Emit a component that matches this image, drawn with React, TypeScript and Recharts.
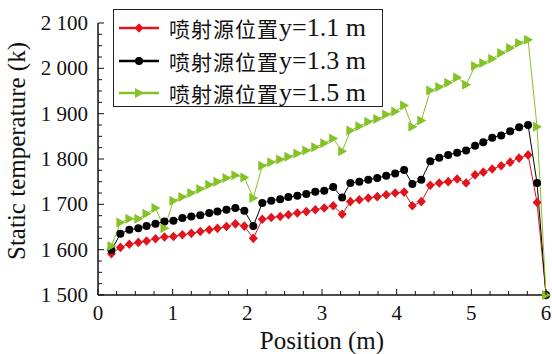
import { LineChart, Line, XAxis, YAxis, Legend } from 'recharts'

// position along the nozzle (m)
const POSITION = [
  0.18, 0.3, 0.42, 0.54, 0.65, 0.77, 0.89, 1.01, 1.13, 1.25,
  1.37, 1.49, 1.6, 1.72, 1.84, 1.96, 2.08, 2.2, 2.32, 2.44,
  2.55, 2.67, 2.79, 2.91, 3.03, 3.15, 3.27, 3.38, 3.5, 3.62,
  3.74, 3.86, 3.98, 4.1, 4.21, 4.33, 4.45, 4.57, 4.69, 4.81,
  4.93, 5.05, 5.16, 5.28, 5.4, 5.52, 5.64, 5.76, 5.88, 6.0,
]

const TEMP_Y11 = [
  1591, 1605, 1612, 1616, 1619, 1624, 1628, 1629, 1633, 1636,
  1640, 1644, 1647, 1651, 1657, 1652, 1625, 1667, 1671, 1673,
  1677, 1681, 1684, 1688, 1692, 1697, 1678, 1706, 1710, 1714,
  1717, 1721, 1725, 1727, 1697, 1706, 1742, 1747, 1750, 1756,
  1747, 1765, 1771, 1778, 1785, 1793, 1802, 1809, 1704, 1500,
]

const TEMP_Y13 = [
  1599, 1635, 1644, 1647, 1652, 1657, 1662, 1664, 1670, 1673,
  1676, 1681, 1684, 1688, 1692, 1686, 1652, 1703, 1708, 1711,
  1716, 1719, 1723, 1728, 1730, 1738, 1715, 1747, 1750, 1754,
  1758, 1763, 1768, 1776, 1745, 1754, 1795, 1803, 1809, 1814,
  1819, 1829, 1837, 1847, 1852, 1861, 1870, 1875, 1747, 1500,
]

const TEMP_Y15 = [
  1608, 1660, 1668, 1668, 1679, 1692, 1647, 1708, 1716, 1725,
  1734, 1743, 1750, 1758, 1764, 1759, 1714, 1785, 1793, 1799,
  1805, 1812, 1819, 1826, 1835, 1845, 1817, 1863, 1872, 1882,
  1888, 1898, 1905, 1918, 1871, 1885, 1951, 1959, 1968, 1980,
  1964, 2005, 2012, 2021, 2034, 2045, 2056, 2063, 1871, 1500,
]

const X_MAJOR = [0, 1, 2, 3, 4, 5, 6]
const Y_MAJOR = [1500, 1600, 1700, 1800, 1900, 2000, 2100]
const X_TICKS = Array.from({ length: 25 }, (_, i) => i * 0.25)
const Y_TICKS = Array.from({ length: 25 }, (_, i) => 1500 + i * 25)

const RED = '#e1141e'
const BLACK = '#000000'
const GREEN = '#85c226'

const SERIES = [
  { key: 'y11', label: '喷射源位置', suffix: 'y=1.1 m', color: RED, shape: 'diamond' },
  { key: 'y13', label: '喷射源位置', suffix: 'y=1.3 m', color: BLACK, shape: 'circle' },
  { key: 'y15', label: '喷射源位置', suffix: 'y=1.5 m', color: GREEN, shape: 'triangle' },
]

const rows = POSITION.map((pos, i) => ({
  pos,
  y11: TEMP_Y11[i],
  y13: TEMP_Y13[i],
  y15: TEMP_Y15[i],
}))

const FONT = "'Liberation Serif', 'Times New Roman', 'Noto Sans CJK SC', serif"
const CJK = "'Noto Sans CJK SC', sans-serif"

const Marker = ({ cx, cy, shape, color }: any) => {
  if (cx == null || cy == null) return null
  if (shape === 'diamond') {
    return <path d={`M${cx},${cy - 4.8}L${cx + 4.5},${cy}L${cx},${cy + 4.8}L${cx - 4.5},${cy}Z`} fill={color} />
  }
  if (shape === 'circle') {
    return <circle cx={cx} cy={cy} r={4} fill={color} />
  }
  return <path d={`M${cx - 4},${cy - 5}L${cx + 5},${cy}L${cx - 4},${cy + 5}Z`} fill={color} />
}

const fmtThousand = (v: number) => `${Math.floor(v / 1000)} ${String(v % 1000).padStart(3, '0')}`

const YTick = (props: any) => {
  const { x, y, payload } = props
  const major = Y_MAJOR.includes(payload.value)
  return (
    <g>
      <line x1={x} y1={y} x2={x + (major ? 6 : 4)} y2={y} stroke="#111" strokeWidth={1} />
      {major && (
        <text x={x - 10} y={y} dy={7} textAnchor="end" fontSize={21} fontFamily={FONT} fill="#111">
          {fmtThousand(payload.value)}
        </text>
      )}
    </g>
  )
}

const XTick = (props: any) => {
  const { x, y, payload } = props
  const major = X_MAJOR.includes(payload.value)
  return (
    <g>
      <line x1={x} y1={y} x2={x} y2={y - (major ? 6 : 4)} stroke="#111" strokeWidth={1} />
      {major && (
        <text x={x} y={y + 25} textAnchor="middle" fontSize={21} fontFamily={FONT} fill="#111">
          {payload.value}
        </text>
      )}
    </g>
  )
}

const XTitle = ({ viewBox }: any) => (
  <text x={viewBox.x + viewBox.width / 2} y={viewBox.y + 54} textAnchor="middle" fontSize={25} fontFamily={FONT} fill="#111">
    Position (m)
  </text>
)

const YTitle = ({ viewBox }: any) => {
  const cx = viewBox.x - 21
  const cy = viewBox.y + viewBox.height / 2 - 8
  return (
    <text x={cx} y={cy} transform={`rotate(-90 ${cx} ${cy})`} dy={8} textAnchor="middle" fontSize={25} fontFamily={FONT} fill="#111">
      Static temperature (k)
    </text>
  )
}

const LegendBox = () => (
  <div style={{ border: '1.5px solid #222', background: '#fff', width: 270, height: 98, boxSizing: 'border-box', padding: '2px 0 0 0' }}>
    {SERIES.map((s) => (
      <div key={s.key} style={{ display: 'flex', alignItems: 'center', height: 32.5 }}>
        <svg width={50} height={20} style={{ marginLeft: 5, flex: 'none' }}>
          <line x1={0} y1={10} x2={40} y2={10} stroke={s.color} strokeWidth={2.5} />
          <Marker cx={20} cy={10} shape={s.shape} color={s.color} />
        </svg>
        <span style={{ fontFamily: CJK, fontSize: 21, color: '#111', whiteSpace: 'nowrap', letterSpacing: 1 }}>{s.label}</span>
        <span style={{ fontFamily: FONT, fontSize: 26, color: '#111', whiteSpace: 'nowrap' }}>{s.suffix}</span>
      </div>
    ))}
  </div>
)

export default function App() {
  return (
    <div style={{ position: 'absolute', left: 0, top: 0, background: '#fff' }}>
      <LineChart width={552} height={354} data={rows} margin={{ top: 23, right: 6, bottom: 29, left: 38 }}>
        <XAxis
          type="number"
          dataKey="pos"
          domain={[0, 6]}
          ticks={X_TICKS}
          interval={0}
          tick={<XTick />}
          tickSize={0}
          tickMargin={0}
          tickLine={false}
          axisLine={{ stroke: '#111', strokeWidth: 1.5 }}
          height={30}
          label={<XTitle />}
        />
        <YAxis
          type="number"
          domain={[1500, 2100]}
          ticks={Y_TICKS}
          interval={0}
          tick={<YTick />}
          tickSize={0}
          tickMargin={0}
          tickLine={false}
          axisLine={{ stroke: '#111', strokeWidth: 1.5 }}
          width={60}
          label={<YTitle />}
        />
        <Legend
          layout="vertical"
          align="center"
          verticalAlign="middle"
          wrapperStyle={{ left: 113, top: 9, width: 270, height: 98 }}
          content={<LegendBox />}
        />
        {SERIES.map((s) => (
          <Line
            key={s.key}
            dataKey={s.key}
            name={s.label + s.suffix}
            stroke={s.color}
            strokeWidth={1}
            dot={(p: any) => <Marker key={`${s.key}-${p.index}`} cx={p.cx} cy={p.cy} shape={s.shape} color={s.color} />}
            activeDot={false}
            isAnimationActive={false}
          />
        ))}
      </LineChart>
    </div>
  )
}
